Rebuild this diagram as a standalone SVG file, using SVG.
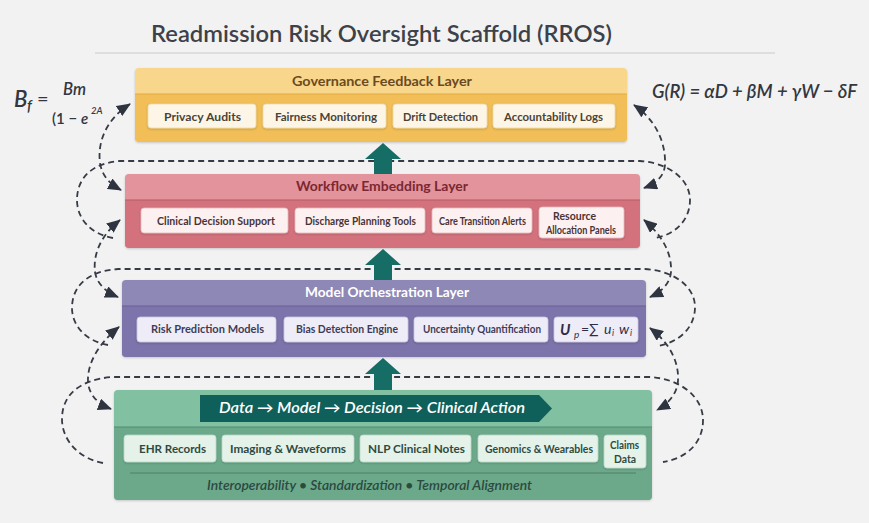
<svg xmlns="http://www.w3.org/2000/svg" width="869" height="523" viewBox="0 0 869 523">
<defs>
<style>
text{font-family:Lato,"Open Sans","Noto Sans",sans-serif;}
.ttl{font-size:23px;font-weight:600;fill:#3d4149;}
.lh{font-size:13.5px;font-weight:700;text-anchor:middle;}
.it{font-size:12px;font-weight:700;text-anchor:middle;}
.dash{fill:none;stroke:#363b45;stroke-width:1.8;stroke-dasharray:6 4;}
.blk{fill:#166d66;}
.fx{font-style:italic;fill:#33373f;font-weight:600;}
</style>
<filter id="sh" x="-10%" y="-20%" width="120%" height="150%">
<feDropShadow dx="0" dy="1" stdDeviation="1" flood-color="#000" flood-opacity="0.18"/>
</filter>
<marker id="ah" viewBox="0 0 14 12" refX="13" refY="6" markerWidth="14" markerHeight="12" markerUnits="userSpaceOnUse" orient="auto-start-reverse">
<path d="M0,0 L14,6 L0,12 z" fill="#2f3540"/>
</marker>
</defs>
<rect width="869" height="523" fill="#f2f2f3"/>

<g id="title">
<text class="ttl" x="151" y="42" textLength="461" lengthAdjust="spacingAndGlyphs">Readmission Risk Oversight Scaffold (RROS)</text>
<line x1="95" y1="53" x2="775" y2="53" stroke="#c9c9cc" stroke-width="1.2"/>
</g>

<g id="formula-bf">
<text class="fx" x="14" y="107" font-size="22">B</text>
<text class="fx" x="27" y="111" font-size="15">f</text>
<text x="37" y="106" font-size="20" fill="#33373f">=</text>
<text class="fx" x="63" y="95" font-size="17" textLength="23" lengthAdjust="spacingAndGlyphs">Bm</text>
<text x="52" y="124" font-size="15" fill="#33373f" font-weight="600">(1 − <tspan font-style="italic">e</tspan></text>
<text class="fx" x="91" y="114" font-size="9.5">2A</text>
</g>

<g id="formula-gr">
<text class="fx" x="652" y="98" font-size="18.5">G(R) = αD + βM + γW − δF</text>
</g>

<g id="governance">
<rect x="135" y="68" width="492" height="74" rx="4" fill="#f8d68c" filter="url(#sh)"/>
<path d="M135,94 H627 V138 Q627,142 623,142 H139 Q135,142 135,138 Z" fill="#f1be57"/>
<line x1="135" y1="94" x2="627" y2="94" stroke="#e3aa44" stroke-width="1.2"/>
<text class="lh" x="382" y="86" fill="#6b4a1f" textLength="180" lengthAdjust="spacingAndGlyphs">Governance Feedback Layer</text>
<g fill="#fdf6e7" stroke="#ecd9ac" stroke-width="0.8" filter="url(#sh)">
<rect x="148" y="104" width="108" height="24" rx="3"/>
<rect x="263" y="104" width="123" height="24" rx="3"/>
<rect x="393" y="104" width="94" height="24" rx="3"/>
<rect x="493" y="104" width="122" height="24" rx="3"/>
</g>
<g fill="#4b4237">
<text class="it" x="202.5" y="121" textLength="77" lengthAdjust="spacingAndGlyphs">Privacy Audits</text>
<text class="it" x="326" y="121" textLength="102" lengthAdjust="spacingAndGlyphs">Fairness Monitoring</text>
<text class="it" x="440.5" y="121" textLength="75" lengthAdjust="spacingAndGlyphs">Drift Detection</text>
<text class="it" x="553.5" y="121" textLength="99" lengthAdjust="spacingAndGlyphs">Accountability Logs</text>
</g>
</g>

<g id="workflow">
<rect x="125" y="174" width="515" height="74" rx="4" fill="#e3939b" filter="url(#sh)"/>
<path d="M125,200 H640 V244 Q640,248 636,248 H129 Q125,248 125,244 Z" fill="#d3727d"/>
<line x1="125" y1="200" x2="640" y2="200" stroke="#b85a66" stroke-width="1.2"/>
<text class="lh" x="382" y="191" fill="#7a2833" textLength="172" lengthAdjust="spacingAndGlyphs">Workflow Embedding Layer</text>
<g fill="#fdf0f0" stroke="#e8b7bd" stroke-width="0.8" filter="url(#sh)">
<rect x="141" y="208" width="147" height="25" rx="3"/>
<rect x="295" y="208" width="130" height="25" rx="3"/>
<rect x="432" y="208" width="100" height="25" rx="3"/>
<rect x="539" y="207" width="85" height="31" rx="3"/>
</g>
<g fill="#4a3336">
<text class="it" x="216" y="225" textLength="118" lengthAdjust="spacingAndGlyphs">Clinical Decision Support</text>
<text class="it" x="360.5" y="225" textLength="111" lengthAdjust="spacingAndGlyphs">Discharge Planning Tools</text>
<text class="it" x="482.5" y="225" font-size="11" textLength="87" lengthAdjust="spacingAndGlyphs">Care Transition Alerts</text>
<text class="it" x="574.5" y="220" font-size="11" textLength="43" lengthAdjust="spacingAndGlyphs">Resource</text>
<text class="it" x="581" y="234" font-size="11" textLength="70" lengthAdjust="spacingAndGlyphs">Allocation Panels</text>
</g>
</g>

<g id="model">
<rect x="122" y="280" width="524" height="77" rx="4" fill="#8e88b6" filter="url(#sh)"/>
<path d="M122,306 H646 V353 Q646,357 642,357 H126 Q122,357 122,353 Z" fill="#7c74aa"/>
<line x1="122" y1="306" x2="646" y2="306" stroke="#675f95" stroke-width="1.2"/>
<text class="lh" x="387" y="297" fill="#ffffff" textLength="164" lengthAdjust="spacingAndGlyphs">Model Orchestration Layer</text>
<g fill="#eeedf7" stroke="#c9c4e0" stroke-width="0.8" filter="url(#sh)">
<rect x="137" y="317" width="139" height="25" rx="3"/>
<rect x="284" y="317" width="124" height="25" rx="3"/>
<rect x="414" y="317" width="134" height="25" rx="3"/>
<rect x="554" y="317" width="84" height="25" rx="3"/>
</g>
<g fill="#3e3b57">
<text class="it" x="207.5" y="333" textLength="113" lengthAdjust="spacingAndGlyphs">Risk Prediction Models</text>
<text class="it" x="347" y="333" textLength="102" lengthAdjust="spacingAndGlyphs">Bias Detection Engine</text>
<text class="it" x="482" y="333" font-size="11.5" textLength="118" lengthAdjust="spacingAndGlyphs">Uncertainty Quantification</text>
</g>
<g fill="#2f2c48" font-style="italic">
<text x="560" y="335" font-size="15" font-weight="700">U</text>
<text x="574" y="338" font-size="10">p</text>
<text x="581" y="334" font-size="14" font-style="normal">=∑</text>
<text x="604" y="334" font-size="14">u</text>
<text x="612" y="336" font-size="9">i</text>
<text x="619" y="334" font-size="14">w</text>
<text x="630" y="336" font-size="9">i</text>
</g>
</g>

<g id="data">
<rect x="114" y="390" width="538" height="110" rx="4" fill="#82c0a2" filter="url(#sh)"/>
<path d="M114,427 H652 V496 Q652,500 648,500 H118 Q114,500 114,496 Z" fill="#6ca98b"/>
<line x1="114" y1="427" x2="652" y2="427" stroke="#4f8d70" stroke-width="1.2"/>
<polygon points="200,395 539,395 552,408.5 539,422 200,422" fill="#0f5f5a"/>
<text x="372" y="413" font-size="15" font-weight="600" font-style="italic" fill="#ffffff" text-anchor="middle" textLength="306" lengthAdjust="spacingAndGlyphs">Data → Model → Decision → Clinical Action</text>
<g fill="#e4f2ea" stroke="#b9d9c7" stroke-width="0.8" filter="url(#sh)">
<rect x="124" y="435" width="92" height="27" rx="3"/>
<rect x="222" y="435" width="132" height="27" rx="3"/>
<rect x="360" y="435" width="111" height="27" rx="3"/>
<rect x="478" y="435" width="120" height="27" rx="3"/>
<rect x="604" y="435" width="42" height="33" rx="3"/>
</g>
<g fill="#2f4a40">
<text class="it" x="172.5" y="453" textLength="67" lengthAdjust="spacingAndGlyphs">EHR Records</text>
<text class="it" x="288" y="453" textLength="116" lengthAdjust="spacingAndGlyphs">Imaging &amp; Waveforms</text>
<text class="it" x="416.5" y="453" textLength="97" lengthAdjust="spacingAndGlyphs">NLP Clinical Notes</text>
<text class="it" x="539" y="453" font-size="11.5" textLength="108" lengthAdjust="spacingAndGlyphs">Genomics &amp; Wearables</text>
<text class="it" x="624.5" y="449" font-size="11" textLength="29" lengthAdjust="spacingAndGlyphs">Claims</text>
<text class="it" x="625" y="463" font-size="11" textLength="22" lengthAdjust="spacingAndGlyphs">Data</text>
</g>
<line x1="130" y1="473" x2="636" y2="473" stroke="#4f7f68" stroke-width="1"/>
<text x="369.5" y="490" font-size="13" font-weight="600" font-style="italic" fill="#2b4a40" text-anchor="middle" textLength="325" lengthAdjust="spacingAndGlyphs">Interoperability • Standardization • Temporal Alignment</text>
</g>

<g id="connectors">
<path class="dash" d="M113,238 C90,234 77,218 77,200 C77,178 92,163 120,161 L640,161 C670,163 690,180 690,200 C690,220 675,235 655,238"/>
<path class="dash" d="M108,345 C85,341 72,325 72,308 C72,286 88,271 118,269 L645,269 C676,271 695,288 695,307 C695,327 680,342 658,346"/>
<path class="dash" d="M103,463 C80,459 62,441 62,419 C62,396 78,380 112,377 L650,377 C682,379 703,398 703,420 C703,442 688,458 663,462"/>
<path class="dash" marker-start="url(#ah)" marker-end="url(#ah)" d="M130,104 C108,118 97,140 100,163 C102,176 110,184 121,190"/>
<path class="dash" marker-start="url(#ah)" marker-end="url(#ah)" d="M120,220 C100,236 93,255 95,272 C97,284 106,292 118,297"/>
<path class="dash" marker-start="url(#ah)" marker-end="url(#ah)" d="M119,327 C98,344 87,364 88,382 C89,395 98,404 111,409"/>
<path class="dash" marker-start="url(#ah)" marker-end="url(#ah)" d="M634,105 C656,120 666,143 665,165 C664,177 655,184 644,188"/>
<path class="dash" marker-start="url(#ah)" marker-end="url(#ah)" d="M644,220 C663,236 672,254 671,272 C670,284 661,292 650,297"/>
<path class="dash" marker-start="url(#ah)" marker-end="url(#ah)" d="M650,328 C671,344 679,363 678,381 C677,394 668,404 657,410"/>
<polygon class="blk" points="383,143 401,159 392,159 392,174 374,174 374,159 365,159"/>
<polygon class="blk" points="383,249 401,265 392,265 392,280 374,280 374,265 365,265"/>
<polygon class="blk" points="383,358 401,374 392,374 392,390 374,390 374,374 365,374"/>
</g>
</svg>
